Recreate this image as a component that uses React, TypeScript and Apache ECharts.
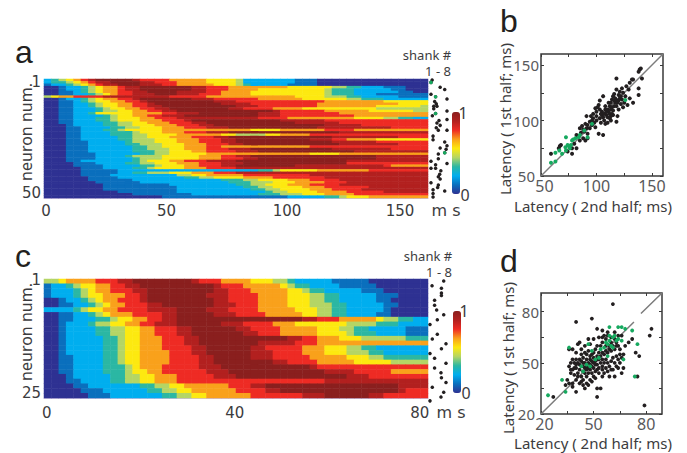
import React, { useEffect, useRef } from "react";
import * as echarts from "echarts";

const rowsA = [
"2345678999 9987777666 6655554222 2222111000 0000000000 00",
"2334567889 9998877766 6655554222 2222111000 0000000000 00",
"1223456788 9998887766 6665554322 2221111000 0000000000 00",
"0012234566 7889999999 8877766666 6665555554 4332221110 00",
"0012234566 7889999999 8877766665 5555555543 3322222110 00",
"0011234566 7788999988 8877666655 5555555543 3322222211 00",
"0011223456 7788899988 8777666655 5555555543 3322211111 11",
"4566777788 8888888777 7766666666 6666555544 4332222211 11",
"0012234566 7789999999 8887777776 6666655555 5443332222 22",
"0011234556 6778999999 9998887777 7777777766 6666665555 55",
"0011223455 6677899999 9999888877 7777777666 6666666655 55",
"0011223455 6677889999 9999998887 7777777666 6666655555 54",
"0011222345 5667788999 9999988777 7666655555 5555544444 44",
"0011222344 5566778899 9999999999 9877777766 6666555555 44",
"0011223555 5566667788 8999999998 8877777777 6666666666 66",
"0011222234 5566778889 9999999998 8877777777 7766666666 66",
"0011222334 5556677788 8888888887 7776666666 6655554433 22",
"0011222334 5556667778 9999999999 9988888877 7777777777 77",
"0011222233 4455666777 8899999999 9999888888 7777777777 77",
"0001222233 4455566677 7889999999 9999999988 8887777777 77",
"0001122223 3445556667 7788899999 9999999888 8888888777 77",
"0001122233 4555556666 6666666655 5566666677 7766666666 66",
"0001122223 3345556667 7788899999 9999999999 8888888888 88",
"0001122223 3344555566 6666554444 5566667777 7777777777 77",
"0001122222 3344555666 7778899999 9999999998 8888888877 77",
"0001122222 3344455566 6777889999 9999998887 7666655555 55",
"0001112222 2344455566 6777889999 9999999998 8888877777 77",
"0001112222 2334445556 6677788999 9999999999 8888888877 77",
"0001112222 2233445556 6677666666 6666667777 7777777777 77",
"0001112222 2233444556 6677788899 9999999998 8888888777 77",
"0001112222 2233344555 6677778889 9999999999 9988888888 88",
"0001111222 2223344555 5566666666 6666665555 6666666666 66",
"0001111222 2344445555 5666778899 9999999999 9999988888 88",
"0001111222 2234445555 5666777889 9999999999 9999988888 88",
"0001122222 2234555667 7788889999 9999999999 9888888888 88",
"0000111222 2334455566 6777888999 9999999999 9777777777 77",
"0000111122 2223345556 6777889999 9999888888 8888887666 66",
"0000011122 2233455556 6677778888 8888888888 8888888888 88",
"0000011111 2222222222 2222222223 3455555666 6666777777 77",
"0000011111 2233444555 6667778888 8888888888 8888888888 88",
"0000011112 2222222244 5566666777 7777778888 8888888888 88",
"0000001111 2222222223 3445555666 6777777788 8888888888 88",
"0000001111 1122222222 2222333445 5556667777 8888888888 88",
"0000000111 1112222222 2222233344 4555666677 7888888888 88",
"0000000011 1111111222 2222223344 5556667777 8888888888 88",
"0000000011 1111111122 2222222334 4555566677 7777888888 88",
"0000000011 1111111122 2222222233 4455556667 7778888888 88",
"0000000000 1111111122 2222222222 3445555666 6777778888 88",
"0000000000 0011111111 2222222223 3344455566 6677777777 77",
"0000000000 0000001111 1111111111 1112222233 4555666666 66",
];

const rowsC = [
"4456666777 8899999999 8777666655 5443222221 1111000000 00",
"1223455667 7889999999 9998777666 6654332222 1111100000 00",
"1222345667 7788999999 9998877766 6665543322 2221110000 00",
"1222345566 6778999999 9988877776 6665554433 2222211100 00",
"0012234566 7778999999 9998877776 6665554433 2222211000 00",
"0011223456 6777889999 9998887776 6665554443 3222221100 00",
"2222345566 7777888899 9988877776 6666555443 3222221000 00",
"0011223456 6677778899 9998887777 6666655443 3222211000 00",
"0011222334 5566778899 9999999999 9999988777 6666654433 22",
"0012223445 5667788899 9999888777 7666555555 5444433322 22",
"0012222334 4556677788 9999998877 7766666555 4433222221 11",
"0012222334 4556677788 9999999887 7766666555 5433322221 11",
"0012222233 4556667778 8999999999 9998877666 5554444443 33",
"0012222233 4556667778 8999999998 8888777666 6666666666 66",
"0012222233 4556667777 8899999988 7777766655 5443322222 22",
"0012222233 4556666777 8899999988 8777766655 5444332222 22",
"0011222233 4556666777 7889999988 8777776666 6555443333 33",
"0011222233 4556666777 7889999999 9887777666 6655555444 44",
"0011222233 3456667777 7888999999 9999998777 7777777777 77",
"0011222233 3455667777 7788899999 9999999988 8877777666 66",
"0001222223 3445566677 7778889999 9999999999 9888777777 77",
"0001122223 3445566677 7777777777 7777777788 8888888888 88",
"0000112222 2223344556 6666677788 9999999999 9999999988 88",
"0000011122 2222334455 6666667777 8899999999 9999999987 77",
"0000001112 2222223344 5566666677 7777788899 9999887777 77",
];

const levelColors = ["#2e3192", "#0a6fbd", "#00aeef", "#2bb7a3", "#b4d565", "#fde910", "#f9a11b", "#ee2b24", "#b2201f", "#8a1f1e"];

const shankA = [[1.5,1],[1,2],[5,4],[7,5],[1,7],[3,8],[8,9],[2.6,10],[3.3,11],[2.2,12],[3.6,12],[2.2,13],[3,15],[8,14],[1.6,16],[8,17.5],[4.5,18],[3.6,19],[5,20],[3.3,21],[4.2,22],[8,22],[1.9,24.5],[1.9,26],[7,27],[8,28.5],[7.6,30],[5,29.5],[7,31.5],[4.2,32],[4.2,34],[1,35],[8,36],[3,36.5],[1,38],[3,38],[5.3,39],[4.8,40.5],[4.2,41.5],[5,42.5],[1,44],[4.2,45],[3.9,46],[1.9,47],[7,47.5],[1.9,48.5],[1.9,50]];
const shankAGreen = [[1,2],[3,8],[3,15],[7,31.5]];
const shankC = [[7,1],[1.9,2],[6,2.5],[6,3.5],[6,4],[3,5],[3,6],[3.9,7],[7,8],[4.2,9],[1,10],[4.2,12],[2,13],[8,14],[6,15],[1,16],[3,17],[8,18],[3,19],[5.8,20],[6,21],[8,22],[2,23],[7,24],[5.8,25],[1,25.8]];

const bBlack = [[59,70],[67,77],[66,75],[68,78],[78,75],[78,70],[82,75],[74,72],[80,79],[85,82],[82,87],[85,93],[90,82],[88,84],[92,88],[91,93],[90,97],[91,104],[94,99],[96,96],[97,102],[100,108],[99,111],[102,114],[103,118],[106,122],[108,113],[105,105],[103,102],[102,88],[106,87],[108,97],[109,105],[111,108],[112,113],[114,119],[115,122],[118,138],[118,128],[120,123],[121,126],[123,129],[117,116],[118,113],[115,105],[118,99],[120,110],[123,119],[126,122],[130,120],[133,116],[129,128],[130,134],[132,137],[133,137],[138,129],[138,123],[141,138],[138,144],[139,146],[140,147],[127,131],[105,108],[107,106],[109,108],[110,110],[112,106],[113,110],[114,112],[115,109],[116,113],[116,118],[117,120],[118,118],[119,116],[120,118],[121,120],[122,115],[110,103],[112,102],[113,104],[108,110],[106,103],[104,106],[100,100],[98,98],[96,100],[94,93],[92,96],[88,92],[86,89],[84,86],[87,95],[95,104],[97,106],[100,104],[101,112],[103,110],[111,116],[113,116],[116,124],[125,116],[128,114],[124,112],[119,104],[122,122],[124,125],[92,84],[89,90],[107,100],[110,98],[114,106],[113,100],[104,98],[99,94]];
const bGreen = [[59,62],[63,63],[63,71],[66.5,73],[69,70],[72.5,85],[72.5,73],[75,77],[77,78],[78,82],[81,84],[84,85],[85,87],[89,91],[92,85],[96,97],[126,118.5],[76,75],[72,76],[79,83],[74,78]];

const dBlack = [[61,84.5],[40,74],[49,76],[83,70],[82,66],[79,25],[27,30],[52,30],[52,35],[54,35],[40,33],[74,56],[76,54],[75,42],[62,42],[36,58],[38,58],[41,61],[42,62],[47,64],[52,70],[55,69],[58,68],[62,68],[45,60],[48,61],[50,64],[53,65],[55,62],[57,64],[60,62],[63,60],[65,58],[68,60],[70,62],[72,64],[67,55],[65,50],[63,48],[60,46],[58,45],[56,44],[55,42],[52,46],[50,42],[48,40],[46,38],[44,37],[42,38],[40,40],[38,38],[36,38],[37,44],[35,40],[36,48],[37,50],[38,46],[39,43],[40,47],[41,44],[42,46],[43,42],[44,40],[45,44],[46,42],[47,44],[48,46],[49,44],[50,47],[51,45],[52,49],[53,47],[54,50],[55,48],[56,50],[57,52],[58,50],[59,48],[60,51],[61,53],[62,50],[63,54],[64,52],[65,55],[66,53],[38,52],[39,50],[40,52],[41,50],[42,52],[43,51],[44,53],[45,50],[46,52],[47,50],[48,52],[49,51],[50,53],[51,51],[52,54],[53,56],[54,54],[55,56],[56,55],[57,57],[58,56],[59,58],[60,57],[61,60],[62,58],[63,62],[64,60],[44,48],[45,47],[46,48],[47,47],[49,48],[50,50],[51,49],[43,55],[45,56],[47,57],[49,55],[51,58],[52,60],[54,60],[56,66],[58,66],[60,65],[62,64],[64,66],[66,66],[55,65],[57,60],[59,60],[50,56],[48,54],[46,55],[44,50],[42,49],[40,49],[39,47],[37,46],[41,42],[43,39],[45,35],[47,37],[49,39],[51,41],[53,44],[55,46],[57,47],[59,42],[61,46],[64,47],[67,47],[66,44],[38,36],[34,37],[40,56],[43,58],[53,52],[52,52],[55,52],[48,49],[46,46],[44,45]];
const dGreen = [[24,31],[32,40],[34,33],[36,59],[47,61],[59,71],[64,71],[66,71],[68,70],[72,69],[75,61],[73.5,42],[67,52],[43,48],[44,45],[48,48],[51,52],[53,53],[54,58],[56,59],[58,61],[59,63],[61,65],[62,66],[64,64],[66,63],[61,59],[58,54],[49,57],[57,62],[60,60],[59,66],[63,63],[46,49]];

const tickA = [0, 50, 100, 150];
const tickC = [0, 40, 80];
const tickB = [50, 100, 150];
const tickD = [20, 50, 80];
const minorB = [50, 75, 100, 125, 150];
const minorD = [20, 35, 50, 65, 80];

const parse = (rows: string[]) => {
  const out: number[][] = [];
  rows.forEach((r, y) => r.replace(/ /g, "").split("").forEach((ch, x) => out.push([x, y, Number(ch)])));
  return out;
};
const idx = (n: number) => Array.from({ length: n }, (_, i) => i);

const WIDE = "DejaVu Sans";
const SANS = "Noto Sans";
const DARK = "#3c3c3e";
const GREY = "#58595b";
const INK = "#231f20";
const GREEN = "#16a95f";

const hidden = { axisLine: { show: false }, axisTick: { show: false }, axisLabel: { show: false }, splitLine: { show: false } };

const txt = (x: number, y: number, text: string, fontSize: number, extra: any = {}, fontFamily = SANS, fill = DARK, align = "center") => ({
  type: "text", x, y, rotation: extra.rotation || 0, scaleX: extra.scaleX || 1, silent: true,
  style: { text, fontSize, fontFamily, fill, align, verticalAlign: "middle", lineHeight: fontSize },
});

export default function App() {
  const ref = useRef<HTMLDivElement>(null);
  useEffect(() => {
    const chart = echarts.init(ref.current!, undefined, { renderer: "svg" });
    const grids = [
      { left: 44, top: 79, width: 384, height: 119 },
      { left: 431, top: 80, width: 16, height: 117 },
      { left: 44, top: 279, width: 384, height: 119 },
      { left: 430, top: 281, width: 16, height: 116 },
      { left: 541, top: 54, width: 122, height: 122, show: true, borderColor: "#3a3a3a", borderWidth: 1.5, backgroundColor: "#fff" },
      { left: 541, top: 293, width: 121, height: 121, show: true, borderColor: "#3a3a3a", borderWidth: 1.5, backgroundColor: "#fff" },
    ];
    const heatX = (g: number, n: number) => ({ type: "category", gridIndex: g, data: idx(n), show: false });
    const heatY = (g: number, n: number) => ({ type: "category", gridIndex: g, data: idx(n), inverse: true, show: false });
    const labelX = (g: number, min: number, max: number, vals: number[], shiftPad: number, margin: number) => ({
      type: "value", gridIndex: g, min, max, position: "bottom",
      axisLine: { show: true, lineStyle: { color: "#c9bfe0", width: 1 } }, axisTick: { show: false }, splitLine: { show: false },
      axisLabel: {
        customValues: vals, margin,
        formatter: (v: number) => (v === vals[vals.length - 1] ? `{s|${v}}` : `${v}`),
        rich: { s: { padding: [0, shiftPad, 0, 0], fontFamily: WIDE, fontSize: 15, color: DARK } },
        fontFamily: WIDE, fontSize: 15, color: DARK,
      },
    });
    const labelY = (g: number, min: number, max: number, vals: number[]) => ({
      type: "value", gridIndex: g, min, max, inverse: true, position: "left",
      axisLine: { show: false }, axisTick: { show: false }, splitLine: { show: false },
      axisLabel: { customValues: vals, margin: 3, fontFamily: WIDE, fontSize: 15, color: DARK },
    });
    const rasterX = (g: number) => ({ type: "value", gridIndex: g, min: 1, max: 8, ...hidden });
    const rasterY = (g: number, max: number) => ({ type: "value", gridIndex: g, min: 1, max, inverse: true, ...hidden });
    const scatterX = (g: number, min: number, max: number, labels: number[], ticks: number[], margin: number) => ({
      type: "value", gridIndex: g, min, max, position: "bottom", splitLine: { show: false }, axisLine: { show: false },
      axisTick: { show: true, inside: true, length: 3, customValues: ticks, lineStyle: { color: "#3a3a3a" } },
      axisLabel: {
        customValues: labels, margin, fontFamily: SANS, fontSize: 16, lineHeight: 13, color: GREY,
        formatter: (v: number) => (v === labels[0] ? `{s|${v}}` : `${v}`),
        rich: { s: { padding: [0, 0, 0, 7], fontFamily: SANS, fontSize: 16, lineHeight: 13, color: GREY } },
      },
    });
    const scatterY = (g: number, min: number, max: number, labels: number[], ticks: number[]) => ({
      type: "value", gridIndex: g, min, max, position: "left", splitLine: { show: false }, axisLine: { show: false },
      axisTick: { show: true, inside: true, length: 3, customValues: ticks, lineStyle: { color: "#3a3a3a" } },
      axisLabel: {
        customValues: labels, margin: 2, fontFamily: SANS, fontSize: 15, lineHeight: 11, color: GREY,
        formatter: (v: number) => (v === labels[0] ? `{s|${v}}` : `${v}`),
        rich: { s: { padding: [0, 4, 0, 0], fontFamily: SANS, fontSize: 15, lineHeight: 11, color: GREY } },
      },
    });
    const mirrorX = (g: number, min: number, max: number, ticks: number[]) => ({
      type: "value", gridIndex: g, min, max, position: "top", splitLine: { show: false }, axisLine: { show: false }, axisLabel: { show: false },
      axisTick: { show: true, inside: true, length: 3, customValues: ticks, lineStyle: { color: "#3a3a3a" } },
    });
    const mirrorY = (g: number, min: number, max: number, ticks: number[]) => ({
      type: "value", gridIndex: g, min, max, position: "right", splitLine: { show: false }, axisLine: { show: false }, axisLabel: { show: false },
      axisTick: { show: true, inside: true, length: 3, customValues: ticks, lineStyle: { color: "#3a3a3a" } },
    });
    const xAxis = [
      heatX(0, 52), // 0
      labelX(0, -0.83, 158.5, tickA, 15, 5), // 1
      rasterX(1), // 2
      heatX(2, 52), // 3
      labelX(2, -0.6, 81.1, tickC, 6, 7), // 4
      rasterX(3), // 5
      scatterX(4, 50, 160, tickB, minorB, 3), // 6
      mirrorX(4, 50, 160, minorB), // 7
      scatterX(5, 20, 89, tickD, minorD, 3), // 8
      mirrorX(5, 20, 89, minorD), // 9
    ];
    const yAxis = [
      heatY(0, 50), // 0
      labelY(0, -0.32, 52.2, [1, 50]), // 1
      rasterY(1, 50), // 2
      heatY(2, 25), // 3
      labelY(2, 0.8, 26.06, [1, 25]), // 4
      rasterY(3, 25), // 5
      scatterY(4, 50, 160, tickB, minorB), // 6
      mirrorY(4, 50, 160, minorB), // 7
      scatterY(5, 20, 91, tickD, minorD), // 8
      mirrorY(5, 20, 91, minorD), // 9
    ];
    const dots = (xi: number, yi: number, data: number[][], color: string, size: number, z = 3) => ({
      type: "scatter", xAxisIndex: xi, yAxisIndex: yi, data, symbolSize: size, clip: false, z,
      itemStyle: { color, opacity: 1 }, silent: true,
    });
    const diag = (xi: number, yi: number, data: (number[] | null[])[]) => ({
      type: "line", xAxisIndex: xi, yAxisIndex: yi, data, symbol: "none", silent: true, z: 2, connectNulls: false,
      lineStyle: { color: "#7c7c7c", width: 1.5 },
    });
    const series = [
      { type: "heatmap", xAxisIndex: 0, yAxisIndex: 0, data: parse(rowsA), silent: true, itemStyle: { borderWidth: 0 } },
      { type: "heatmap", xAxisIndex: 3, yAxisIndex: 3, data: parse(rowsC), silent: true, itemStyle: { borderWidth: 0 } },
      dots(2, 2, shankA, INK, 3.5),
      dots(2, 2, shankAGreen, GREEN, 3.5, 4),
      dots(5, 5, shankC, INK, 3.5),
      diag(6, 6, [[50, 50], [160, 160]]),
      dots(6, 6, bBlack, INK, 4),
      dots(6, 6, bGreen, GREEN, 4, 4),
      diag(8, 8, [[20, 20], [73, 74], [null, null], [77, 79], [89, 91]]),
      dots(8, 8, dBlack, INK, 3.8),
      dots(8, 8, dGreen, GREEN, 3.8, 4),
    ];
    const vm = (seriesIndex: number, left: number, top: number, w: number, h: number) => ({
      type: "continuous", seriesIndex, min: 0, max: 9, left, top, itemWidth: w, itemHeight: h, padding: 0,
      calculable: false, realtime: false, showLabel: false, inRange: { color: levelColors }, textStyle: { color: "transparent" }, silent: true,
      hoverLink: false,
    });
    chart.setOption({
      animation: false,
      backgroundColor: "#fff",
      tooltip: { show: false },
      grid: grids,
      xAxis,
      yAxis,
      series,
      visualMap: [vm(0, 452, 112, 8, 82), vm(1, 453, 311, 8, 82)],
      graphic: {
        elements: [
          txt(15, 52, "a", 32, {}, "Liberation Sans", "#231f20", "left"),
          txt(500, 21, "b", 32, {}, "Liberation Sans", "#231f20", "left"),
          txt(15, 256, "c", 32, {}, "Liberation Sans", "#231f20", "left"),
          txt(500, 261, "d", 32, {}, "Liberation Sans", "#231f20", "left"),
          txt(26, 132, "neuron num.", 16, { rotation: Math.PI / 2 }, SANS, DARK),
          txt(26, 332, "neuron num.", 16, { rotation: Math.PI / 2 }, SANS, DARK),
          txt(427, 55, "shank #", 13),
          txt(438, 71, "1 - 8", 13),
          txt(428, 256, "shank #", 13),
          txt(439, 272, "1 - 8", 13),
          txt(463, 113, "1", 16),
          txt(465, 195, "0", 16),
          txt(464, 311, "1", 16),
          txt(466, 393, "0", 16),
          txt(446, 210, "m s", 16, {}, WIDE),
          txt(451, 412, "m s", 16, {}, WIDE),
          txt(593, 206, "Latency ( 2nd half; ms)", 15),
          txt(505, 119, "Latency ( 1st half; ms)", 15, { rotation: Math.PI / 2 }),
          txt(593, 443, "Latency ( 2nd half; ms)", 15),
          txt(508, 358, "Latency ( 1st half; ms)", 15, { rotation: Math.PI / 2 }),
        ],
      },
    });
    return () => chart.dispose();
  }, []);
  return <div ref={ref} style={{ position: "absolute", left: 0, top: 0, width: 687, height: 453 }} />;
}
